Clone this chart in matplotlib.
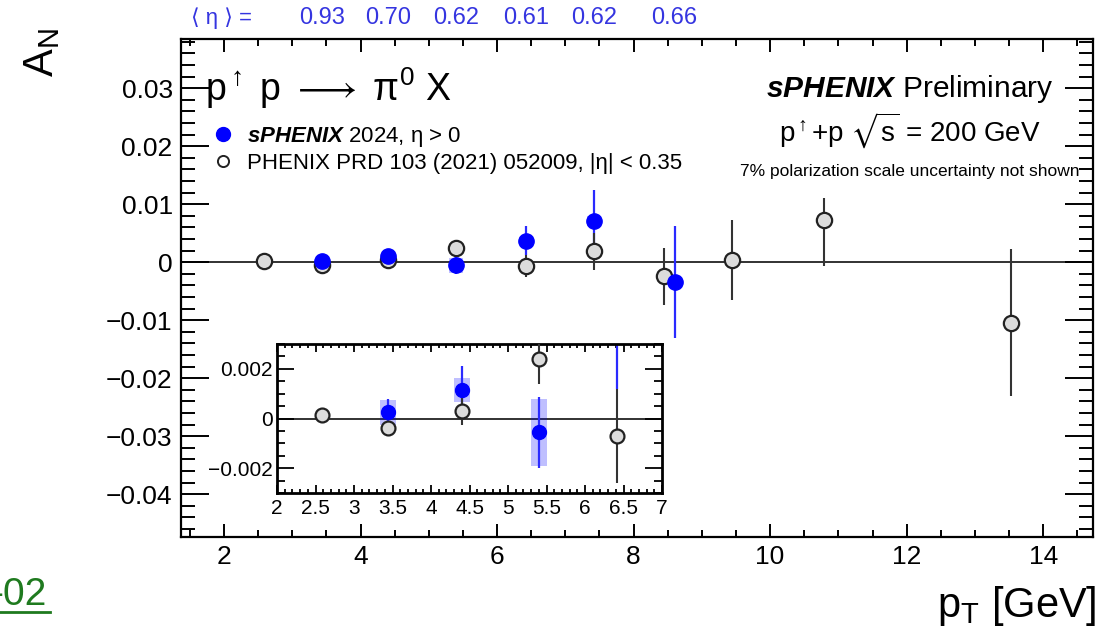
import numpy as np
import matplotlib
matplotlib.use("Agg")
import matplotlib.pyplot as plt
from matplotlib.lines import Line2D
from matplotlib.ticker import MultipleLocator, FuncFormatter

plt.rcParams['font.family'] = ['Liberation Sans', 'DejaVu Sans']
plt.rcParams['mathtext.fontset'] = 'custom'
plt.rcParams['mathtext.rm'] = 'Liberation Sans'
plt.rcParams['mathtext.it'] = 'Liberation Sans:italic'
plt.rcParams['mathtext.bf'] = 'Liberation Sans:bold'
plt.rcParams['mathtext.bfit'] = 'Liberation Sans:bold:italic'
plt.rcParams['mathtext.fallback'] = 'stix'

# PHENIX PRD 103 (2021) 052009, |eta| < 0.35
phenix_pt = [2.59, 3.44, 4.40, 5.40, 6.42, 7.42, 8.45, 9.44, 10.79, 13.53]
phenix_an = [0.00015, -0.0004, 0.0003, 0.0024, -0.0007, 0.0020, -0.0024, 0.0004, 0.0073, -0.0105]
phenix_err_lo = [0.0001, 0.0002, 0.00055, 0.001, 0.0019, 0.0033, 0.0049, 0.0070, 0.0080, 0.0126]
phenix_err_hi = [0.0001, 0.0002, 0.00055, 0.001, 0.0019, 0.0030, 0.0049, 0.0069, 0.0037, 0.0127]

# sPHENIX 2024, eta > 0
sphenix_pt = [3.44, 4.40, 5.40, 6.42, 7.42, 8.60]
sphenix_an = [0.00025, 0.00115, -0.00055, 0.0037, 0.0071, -0.0034]
sphenix_stat = [0.00055, 0.00095, 0.00143, 0.0025, 0.0054, 0.0096]
sphenix_sys = [0.0005, 0.0005, 0.00135, 0.0006, 0.0008, 0.0006]
eta_mean = ['0.93', '0.70', '0.62', '0.61', '0.62', '0.66']

BLUE = '#0000ff'
BLUE_LINE = '#2a2aff'
GREY = '#333333'


def draw_points(ax, ms):
    ax.axhline(0, color='#222222', lw=1.3, zorder=1)
    ax.bar(sphenix_pt, 2 * np.array(sphenix_sys), bottom=np.array(sphenix_an) - np.array(sphenix_sys),
           width=0.2, color=BLUE, alpha=0.25, lw=0, zorder=2)
    ax.errorbar(sphenix_pt, sphenix_an, yerr=sphenix_stat, fmt='none', ecolor=BLUE_LINE,
                elinewidth=1.6, capsize=0, zorder=2)
    ax.errorbar(phenix_pt, phenix_an, yerr=[phenix_err_lo, phenix_err_hi], fmt='o', ms=ms,
                mfc='#dcdcdc', mec='#222222', mew=1.6, ecolor=GREY, elinewidth=1.5,
                capsize=0, zorder=3)
    ax.plot(sphenix_pt, sphenix_an, 'o', ms=ms, color=BLUE, mec=BLUE, zorder=4)


def fmt_num(v, pos):
    if abs(v) < 1e-12:
        return '0'
    return ('%g' % v).replace('-', '\u2212')


fig = plt.figure(figsize=(11.14, 6.34), dpi=100)
ax = fig.add_axes([181 / 1114, 1 - 537 / 634, 912 / 1114, 498 / 634])
draw_points(ax, 11)

ax.set_xlim(1.37, 14.73)
ax.set_ylim(-0.0474, 0.0385)
ax.xaxis.set_major_locator(MultipleLocator(2))
ax.xaxis.set_minor_locator(MultipleLocator(0.5))
ax.yaxis.set_major_locator(MultipleLocator(0.01))
ax.yaxis.set_minor_locator(MultipleLocator(0.002))
ax.yaxis.set_major_formatter(FuncFormatter(lambda v, p: '0' if abs(v) < 1e-12 else ('%.2f' % v).replace('-', '\u2212')))
ax.tick_params(which='both', direction='in', top=True, right=True, width=1.4, labelsize=19)
ax.tick_params(axis='y', which='major', length=20, pad=6)
ax.tick_params(axis='y', which='minor', length=10)
ax.tick_params(axis='x', which='major', length=9.5, pad=6)
ax.tick_params(axis='x', which='minor', length=5)
for s in ax.spines.values():
    s.set_linewidth(1.6)

# mean pseudorapidity of each sPHENIX bin
ax.text(1.96, 1.042, '\u27e8 η \u27e9 =', transform=ax.get_xaxis_transform(),
        ha='center', va='center', color='#3535e0', fontsize=16)
for x, e in zip(sphenix_pt, eta_mean):
    ax.text(x, 1.042, e, transform=ax.get_xaxis_transform(), ha='center', va='center',
            color='#3535e0', fontsize=17)

ax.text(0.026, 0.902, 'p$^{\\uparrow}$ p $\\longrightarrow$ π$^{0}$ X', transform=ax.transAxes,
        ha='left', va='center', fontsize=27)

handles = [Line2D([], [], marker='o', ls='none', color=BLUE, ms=10),
           Line2D([], [], marker='o', ls='none', mfc='white', mec='#222222', mew=1.4, ms=8)]
labels = [r'$\mathbfit{sPHENIX}$ 2024, η > 0', 'PHENIX PRD 103 (2021) 052009, |η| < 0.35']
ax.legend(handles, labels, loc='upper left', bbox_to_anchor=(0.022, 0.85), frameon=False,
          fontsize=16, handlelength=1.0, handletextpad=0.55, labelspacing=0.2, borderpad=0)

ax.text(0.799, 0.900, r'$\mathbfit{sPHENIX}$ Preliminary', transform=ax.transAxes,
        ha='center', va='center', fontsize=21.5)
ax.text(0.799, 0.815, r'p$^{\uparrow}$+p $\sqrt{\mathrm{s}}$ = 200 GeV', transform=ax.transAxes,
        ha='center', va='center', fontsize=20)
ax.text(0.799, 0.733, '7% polarization scale uncertainty not shown', transform=ax.transAxes,
        ha='center', va='center', fontsize=12.5)

# zoomed view of the low-pT region
ins = fig.add_axes([277 / 1114, 1 - 493 / 634, 385 / 1114, 149 / 634])
draw_points(ins, 10)
ins.set_xlim(2, 7)
ins.set_ylim(-0.003, 0.003)
ins.xaxis.set_major_locator(MultipleLocator(0.5))
ins.xaxis.set_minor_locator(MultipleLocator(0.1))
ins.yaxis.set_major_locator(MultipleLocator(0.002))
ins.yaxis.set_minor_locator(MultipleLocator(0.0005))
ins.xaxis.set_major_formatter(FuncFormatter(fmt_num))
ins.yaxis.set_major_formatter(FuncFormatter(fmt_num))
ins.tick_params(which='both', direction='in', top=True, right=True, width=1.3, labelsize=15)
ins.tick_params(axis='y', which='major', length=12, pad=3)
ins.tick_params(axis='y', which='minor', length=6)
ins.tick_params(axis='x', which='major', length=6, pad=4)
ins.tick_params(axis='x', which='minor', length=3)
for s in ins.spines.values():
    s.set_linewidth(2)

fig.text(42 / 1114, 1 - 28 / 634, r'A$_{\mathrm{N}}$', rotation=90, ha='center', va='top', fontsize=30)
fig.text(1097 / 1114, 1 - 617 / 634, r'p$_{\mathrm{T}}$ [GeV]', ha='right', va='baseline', fontsize=30)

fig.text(-10 / 1114, 1 - 605 / 634, '-02', ha='left', va='baseline', fontsize=28, color='#1f7a1f')
fig.add_artist(Line2D([0, 50 / 1114], [1 - 612 / 634, 1 - 612 / 634], color='#1f7a1f', lw=2,
                      transform=fig.transFigure))

fig.savefig('out.png', dpi=100)
